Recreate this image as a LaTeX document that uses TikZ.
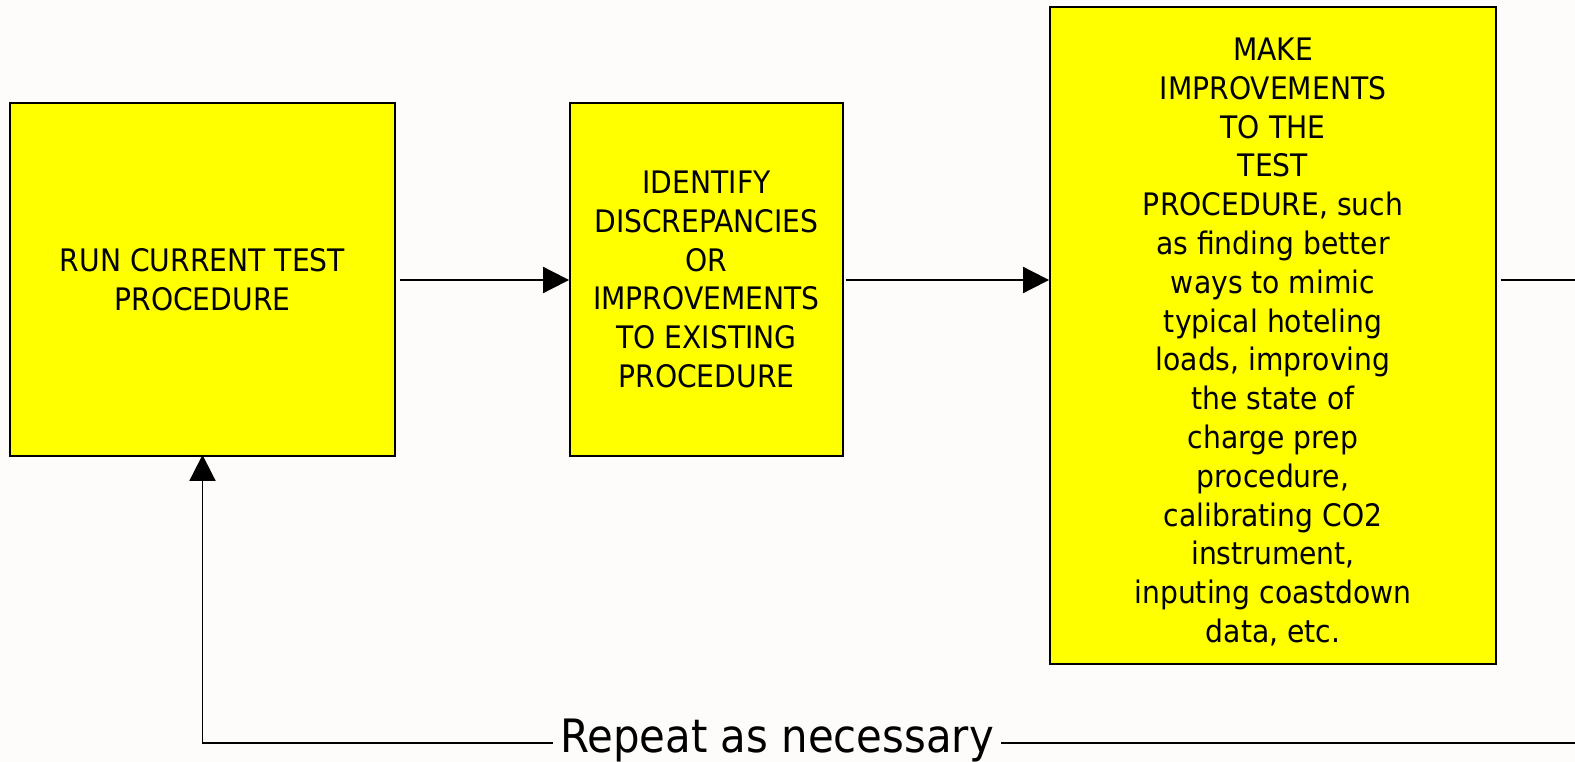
\documentclass[tikz,border=0pt]{standalone}
\usepackage{fontspec}
\setmainfont[FakeStretch=0.91]{DejaVu Sans}
\usetikzlibrary{arrows.meta}
\definecolor{bgc}{RGB}{253,252,250}
\definecolor{boxy}{RGB}{255,255,0}
\tikzset{
  procbox/.style={draw=black, line width=1.8pt, fill=boxy, inner sep=0pt, align=center,
    font=\fontsize{31}{38.8}\selectfont},
  conn/.style={line width=1.8pt, draw=black},
  arr/.style={conn, -{Triangle[length=26pt,width=26pt]}},
}
\begin{document}
\begin{tikzpicture}[x=1pt,y=-1pt]
\fill[bgc] (0,0) rectangle (1575,762);
\useasboundingbox (0,0) rectangle (1575,762);
\node[procbox, minimum width=385pt, minimum height=353pt] (b1) at (202.5,279.5)
  {RUN CURRENT TEST\\PROCEDURE};
\node[procbox, minimum width=273pt, minimum height=353pt] (b2) at (706.5,279.5)
  {IDENTIFY\\DISCREPANCIES\\OR\\IMPROVEMENTS\\TO EXISTING\\PROCEDURE};
\node[procbox, minimum width=446pt, minimum height=657pt] (b3) at (1273,335.5) {};
\node[align=center, font=\fontsize{31}{38.8}\selectfont, inner sep=0pt] (t3) at (1273,342)
  {MAKE\\IMPROVEMENTS\\TO THE\\TEST\\PROCEDURE, such\\as finding better\\ways to mimic\\typical hoteling\\loads, improving\\the state of\\charge prep\\procedure,\\calibrating CO2\\instrument,\\inputing coastdown\\data, etc.};
\coordinate (rt) at (1575,280);
\coordinate (rb) at (1575,743);
\coordinate (corner) at (202.5,743);
\node[font=\fontsize{46}{52}\selectfont, inner xsep=7pt, inner ysep=0pt, anchor=base] (rep) at (777,752) {Repeat as necessary};
\draw[arr] (b1.east |- 0,280) ++(4,0) -- (b2.west |- 0,280);
\draw[arr] (b2.east |- 0,280) ++(2,0) -- (b3.west |- 0,280);
\draw[conn] (b3.east |- 0,280) ++(4,0) -- (rt);
\draw[conn] (rb) -- (rep.east |- rb);
\draw[arr] (rep.west |- rb) -- (corner) -- ([yshift=2pt]b1.south);
\end{tikzpicture}
\end{document}
